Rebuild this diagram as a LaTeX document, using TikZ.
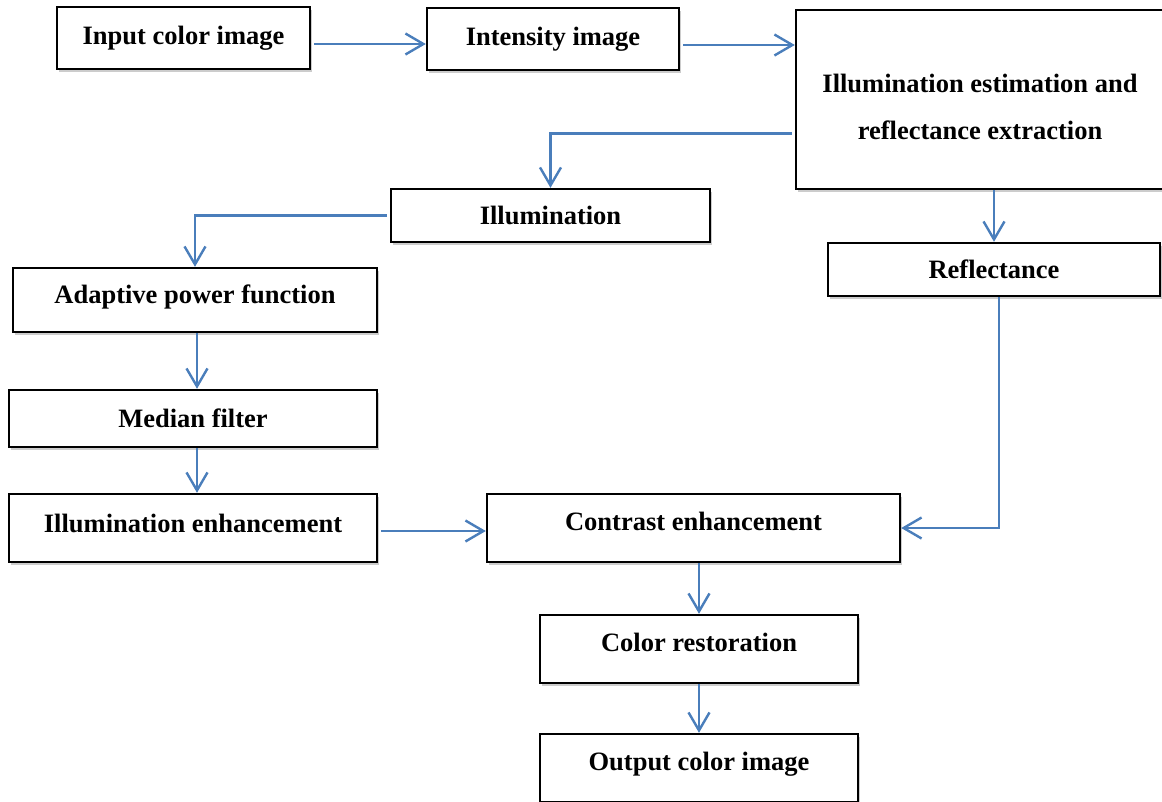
\documentclass[tikz,border=0pt]{standalone}
\usepackage{fontspec}
\setmainfont{Liberation Serif}
\usepackage{tikz}
\usetikzlibrary{arrows.meta, positioning, calc, shadows}
\definecolor{arrowblue}{RGB}{74,126,187}
\tikzset{
  proc box/.style={
    rectangle, draw=black, fill=white, line width=2.4pt,
    inner sep=2pt, align=center,
    font=\bfseries\fontsize{26.5}{47}\selectfont,
    drop shadow={opacity=0.4, shadow xshift=2pt, shadow yshift=-3pt}
  },
  flow arrow/.style={
    -{Straight Barb[length=18pt,width=21pt]}, line width=2.4pt, draw=arrowblue
  }
}

\begin{document}
\begin{tikzpicture}[x=1pt, y=-1pt]
  \useasboundingbox (0,0) rectangle (1162,801);

  \node (n1) [proc box, minimum width=253pt, minimum height=62pt] at (183.5,38) {Input color image};
  \node (n2) [proc box, minimum width=252pt, minimum height=62pt] at (553,39) {Intensity image};
  \node (n3) [proc box, minimum width=368pt, minimum height=179pt] at (980,99.5) {\rule{0pt}{33pt}Illumination estimation and\\reflectance extraction};
  \node (n4) [proc box, minimum width=319pt, minimum height=53pt] at (550.5,215.5) {Illumination};
  \node (n5) [proc box, minimum width=332pt, minimum height=53pt] at (994,269.5) {Reflectance};
  \node (n6) [proc box, minimum width=364pt, minimum height=64pt, text depth=12pt] at (195,300) {Adaptive power function};
  \node (n7) [proc box, minimum width=368pt, minimum height=57pt] at (193,418.5) {Median filter};
  \node (n8) [proc box, minimum width=368pt, minimum height=68pt, text depth=10pt] at (193,528) {Illumination enhancement};
  \node (n9) [proc box, minimum width=413pt, minimum height=68pt, text depth=14pt] at (693.5,528) {Contrast enhancement};
  \node (n10) [proc box, minimum width=318pt, minimum height=68pt, text depth=14pt] at (699,649) {Color restoration};
  \node (n11) [proc box, minimum width=318pt, minimum height=68pt, text depth=14pt] at (699,768) {Output color image};

  \coordinate (a12) at ($(n1.east)+(3,6)$);
  \coordinate (a23) at ($(n2.east)+(3,6)$);
  \coordinate (a34) at ($(n3.west)+(-3,34)$);
  \coordinate (a46) at ($(n4.west)+(-3,0)$);
  \coordinate (a67) at ($(n6.south)+(2,0)$);
  \coordinate (a78) at ($(n7.south)+(4,0)$);
  \coordinate (a89) at ($(n8.east)+(3,3)$);
  \coordinate (a59) at ($(n5.south)+(5,0)$);

  \draw [flow arrow] (a12) -- (a12 -| n2.west);
  \draw [flow arrow] (a23) -- (a23 -| n3.west);
  \draw [flow arrow] (a34) -| (n4.north);
  \draw [flow arrow] (n5.north |- n3.south) -- (n5.north);
  \draw [flow arrow] (a46) -| (n6.north);
  \draw [flow arrow] (a67) -- (a67 |- n7.north);
  \draw [flow arrow] (a78) -- (a78 |- n8.north);
  \draw [flow arrow] (a89) -- (a89 -| n9.west);
  \draw [flow arrow] (a59) |- (n9.east);
  \draw [flow arrow] (n9.south -| n10.north) -- (n10.north);
  \draw [flow arrow] (n10) -- (n11);
\end{tikzpicture}
\end{document}
